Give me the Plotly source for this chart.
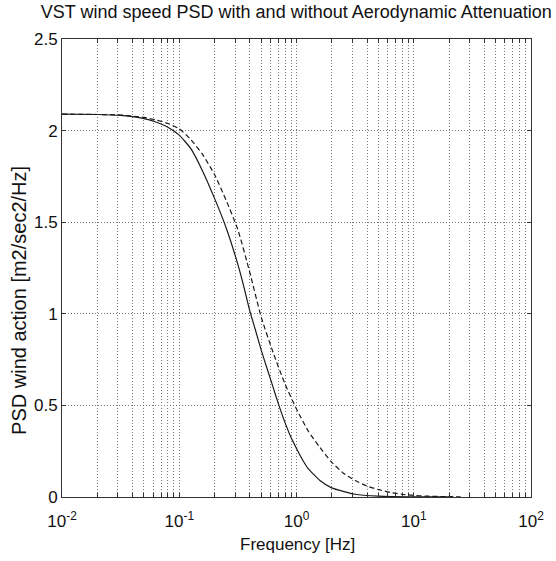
import plotly.graph_objects as go

# Frequencies [Hz] and PSD values
freq_solid = [0.01, 0.02, 0.0316, 0.0398, 0.0501, 0.0631, 0.0794, 0.1, 0.126, 0.158, 0.2,
              0.251, 0.316, 0.355, 0.398, 0.447, 0.501, 0.562, 0.631, 0.708, 0.794, 0.891,
              1.0, 1.122, 1.259, 1.585, 1.995, 3.162, 5.012, 10.0, 20.0]
psd_solid = [2.09, 2.088, 2.083, 2.076, 2.065, 2.047, 2.02, 1.975, 1.90, 1.78, 1.63,
             1.47, 1.27, 1.15, 1.02, 0.91, 0.80, 0.70, 0.60, 0.50, 0.41, 0.33,
             0.265, 0.205, 0.155, 0.09, 0.05, 0.015, 0.005, 0.001, 0.0005]

freq_dash = [0.01, 0.02, 0.0316, 0.0501, 0.0631, 0.0794, 0.1, 0.126, 0.158, 0.2, 0.251,
             0.316, 0.398, 0.501, 0.631, 0.794, 1.0, 1.259, 1.585, 1.995, 2.512, 3.162,
             3.981, 5.012, 6.31, 7.943, 10.0, 12.59, 15.85, 19.95, 25.12]
psd_dash = [2.09, 2.088, 2.085, 2.072, 2.058, 2.04, 2.01, 1.95, 1.87, 1.76, 1.62,
            1.46, 1.23, 0.98, 0.79, 0.62, 0.48, 0.36, 0.27, 0.19, 0.13, 0.09,
            0.06, 0.04, 0.025, 0.015, 0.009, 0.005, 0.003, 0.002, 0.001]

x_tick_vals = [1e-2, 1e-1, 1e0, 1e1, 1e2]
x_tick_text = ["10<sup>-2</sup>", "10<sup>-1</sup>", "10<sup>0</sup>", "10<sup>1</sup>", "10<sup>2</sup>"]
y_tick_vals = [0, 0.5, 1, 1.5, 2, 2.5]
y_tick_text = ["0", "0.5", "1", "1.5", "2", "2.5"]

# grid positions on the log axis (1..9 x each decade)
grid_x = []
for d in [1e-2, 1e-1, 1e0, 1e1]:
    for m in range(1, 10):
        grid_x.append(m * d)
grid_x.append(1e2)
grid_text = []
for v in grid_x:
    match = [t for tv, t in zip(x_tick_vals, x_tick_text) if abs(tv - v) < 1e-12]
    grid_text.append(match[0] if match else "")

fig = go.Figure()
fig.add_trace(go.Scatter(x=freq_solid, y=psd_solid, mode="lines",
                         line=dict(color="#1a1a1a", width=1.2, shape="spline", smoothing=0.5)))
fig.add_trace(go.Scatter(x=freq_dash, y=psd_dash, mode="lines",
                         line=dict(color="#1a1a1a", width=1.2, dash="5px,3px", shape="spline", smoothing=0.5)))

font = "Liberation Sans, Arial, sans-serif"
grid_col = "#7a7a7a"
fig.update_layout(
    width=556, height=561,
    margin=dict(l=62, r=19, t=39, b=64),
    paper_bgcolor="white", plot_bgcolor="white",
    showlegend=False,
    font=dict(family=font, size=17, color="#111111"),
    title=dict(text="VST wind speed PSD with and without Aerodynamic Attenuation",
               x=0.533, xanchor="center", y=0.99, yanchor="top",
               font=dict(family=font, size=18, color="#111111")),
    xaxis=dict(type="log", range=[-2, 2], tickmode="array", tickvals=grid_x, ticktext=grid_text,
               showgrid=True, gridcolor=grid_col, griddash="1px,2px", gridwidth=1,
               showline=True, linecolor="#333333", linewidth=1, mirror="ticks",
               ticks="inside", ticklen=4, tickcolor="#333333",
               ticklabelstandoff=9,
               zeroline=False, tickfont=dict(size=17)),
    yaxis=dict(range=[0, 2.5], tickmode="array", tickvals=y_tick_vals, ticktext=y_tick_text,
               showgrid=True, gridcolor=grid_col, griddash="1px,2px", gridwidth=1,
               showline=True, linecolor="#333333", linewidth=1, mirror="ticks",
               ticks="inside", ticklen=4, tickcolor="#333333",
               zeroline=False, tickfont=dict(size=17)),
    annotations=[
        dict(text="Frequency [Hz]", xref="paper", yref="paper", x=0.503, y=-0.104,
             xanchor="center", yanchor="middle", showarrow=False,
             font=dict(family=font, size=17, color="#111111")),
        dict(text="PSD wind action [m2/sec2/Hz]", xref="paper", yref="paper", x=-0.092, y=0.43,
             xanchor="center", yanchor="middle", showarrow=False, textangle=-90,
             font=dict(family=font, size=20, color="#111111")),
    ],
)

fig.write_html("out.html")
